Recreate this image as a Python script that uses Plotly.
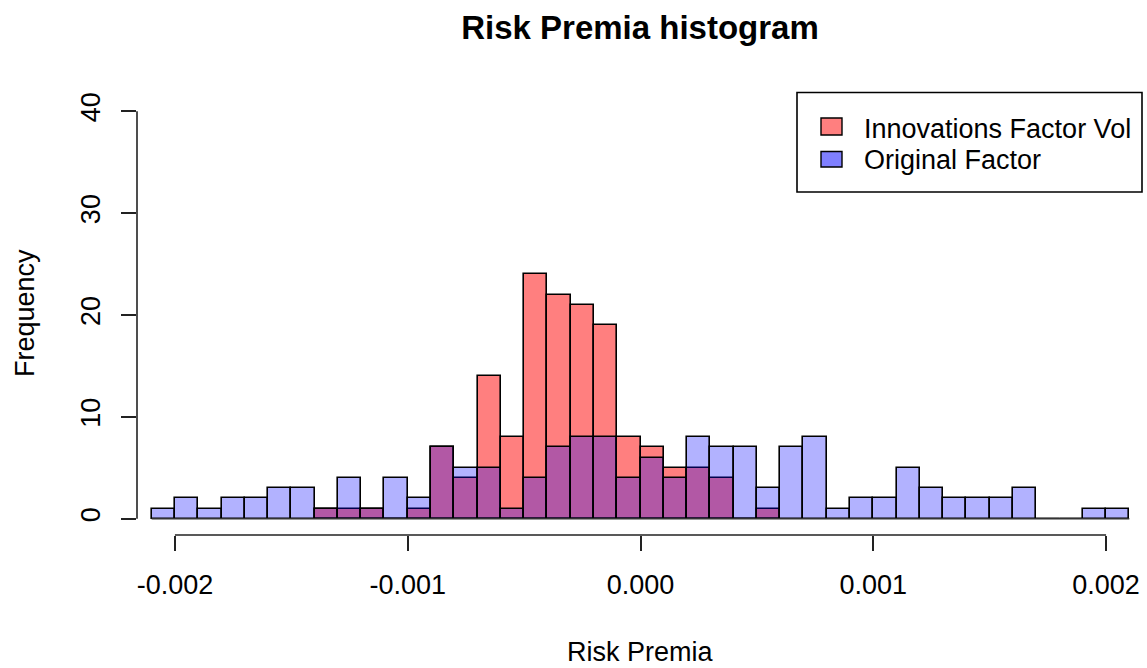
import plotly.graph_objects as go

# ---- data ----
blue_breaks = [-0.0021, -0.0020, -0.0019, -0.0018, -0.0017, -0.0016, -0.0015, -0.0014,
               -0.0013, -0.0012, -0.0011, -0.0010, -0.0009, -0.0008, -0.0007, -0.0006,
               -0.0005, -0.0004, -0.0003, -0.0002, -0.0001, 0.0000, 0.0001, 0.0002,
               0.0003, 0.0004, 0.0005, 0.0006, 0.0007, 0.0008, 0.0009, 0.0010, 0.0011,
               0.0012, 0.0013, 0.0014, 0.0015, 0.0016, 0.0017, 0.0018, 0.0019, 0.0020, 0.0021]
blue_counts = [1, 2, 1, 2, 2, 3, 3, 1, 4, 1, 4, 2, 7, 5, 5, 1, 4, 7, 8, 8, 4,
               6, 4, 8, 7, 7, 3, 7, 8, 1, 2, 2, 5, 3, 2, 2, 2, 3, 0, 0, 1, 1]

red_breaks = [-0.0014, -0.0013, -0.0012, -0.0011, -0.0010, -0.0009, -0.0008, -0.0007,
              -0.0006, -0.0005, -0.0004, -0.0003, -0.0002, -0.0001, 0.0000, 0.0001,
              0.0002, 0.0003, 0.0004, 0.0005, 0.0006]
red_counts = [1, 1, 1, 0, 1, 7, 4, 14, 8, 24, 22, 21, 19, 8, 7, 5, 5, 4, 0, 1]

x_ticks = [-0.002, -0.001, 0.000, 0.001, 0.002]
x_tick_labels = ["-0.002", "-0.001", "0.000", "0.001", "0.002"]
y_ticks = [0, 10, 20, 30, 40]
series_names = ["Innovations Factor Vol", "Original Factor"]

RED_FILL = "rgba(255,0,0,0.5)"
BLUE_FILL = "rgba(0,0,255,0.3)"
RED_KEY = "rgba(255,0,0,0.5)"
BLUE_KEY = "rgba(0,0,255,0.5)"
FONT = "Liberation Sans, Arial, sans-serif"
FS = 27

W, H = 1147, 668
L, R, T, B = 137, 3, 95, 133
PW, PH = W - L - R, H - T - B


def px_x(p):
    return (p - L) / PW


def px_y(p):
    return (H - B - p) / PH


def centers(breaks):
    return [(a + b) / 2 for a, b in zip(breaks[:-1], breaks[1:])]


def widths(breaks):
    return [b - a for a, b in zip(breaks[:-1], breaks[1:])]


fig = go.Figure()
fig.add_trace(go.Bar(x=centers(red_breaks), y=red_counts, width=widths(red_breaks),
                     marker=dict(color=RED_FILL, line=dict(color="black", width=1.6)),
                     name=series_names[0], showlegend=False))
fig.add_trace(go.Bar(x=centers(blue_breaks), y=blue_counts, width=widths(blue_breaks),
                     marker=dict(color=BLUE_FILL, line=dict(color="black", width=1.6)),
                     name=series_names[1], showlegend=False))

shapes = []
# baseline for empty bins
shapes.append(dict(type="line", xref="x", yref="y", x0=blue_breaks[0], x1=blue_breaks[-1],
                   y0=0, y1=0, line=dict(color="#333", width=1.6)))
# R-style axis lines
shapes.append(dict(type="line", xref="paper", yref="y", x0=0, x1=0, y0=y_ticks[0], y1=y_ticks[-1],
                   line=dict(color="#222", width=1.6)))
shapes.append(dict(type="line", xref="x", yref="paper", x0=x_ticks[0], x1=x_ticks[-1], y0=0, y1=0,
                   line=dict(color="#222", width=1.6)))
# legend box
shapes.append(dict(type="rect", xref="paper", yref="paper",
                   x0=px_x(797), x1=px_x(1142), y0=px_y(192), y1=px_y(92.5),
                   line=dict(color="black", width=1.6), fillcolor="white"))
shapes.append(dict(type="rect", xref="paper", yref="paper",
                   x0=px_x(821), x1=px_x(842), y0=px_y(135), y1=px_y(118),
                   line=dict(color="black", width=1.4), fillcolor=RED_KEY))
shapes.append(dict(type="rect", xref="paper", yref="paper",
                   x0=px_x(821), x1=px_x(842), y0=px_y(167), y1=px_y(151.5),
                   line=dict(color="black", width=1.4), fillcolor=BLUE_KEY))

annotations = [
    dict(text=series_names[0], xref="paper", yref="paper", x=px_x(862), y=px_y(129),
         xanchor="left", yanchor="middle", showarrow=False, font=dict(family=FONT, size=FS, color="black")),
    dict(text=series_names[1], xref="paper", yref="paper", x=px_x(862), y=px_y(160),
         xanchor="left", yanchor="middle", showarrow=False, font=dict(family=FONT, size=FS, color="black")),
    dict(text="Risk Premia", xref="paper", yref="paper", x=px_x(640), y=px_y(652),
         xanchor="center", yanchor="middle", showarrow=False, font=dict(family=FONT, size=FS, color="black")),
    dict(text="Frequency", xref="paper", yref="paper", x=px_x(25), y=px_y(313), textangle=-90,
         xanchor="center", yanchor="middle", showarrow=False, font=dict(family=FONT, size=FS, color="black")),
]

fig.update_layout(
    width=W, height=H,
    margin=dict(l=L, r=R, t=T, b=B, pad=0),
    paper_bgcolor="white", plot_bgcolor="white",
    barmode="overlay", bargap=0,
    showlegend=False,
    title=dict(text="<b>Risk Premia histogram</b>", x=px_x(640), xref="paper", xanchor="center",
               y=1 - 27 / H, yref="container", yanchor="middle",
               font=dict(family=FONT, size=33, color="black")),
    shapes=shapes, annotations=annotations,
    xaxis=dict(range=[-0.002163, 0.002163], showgrid=False, zeroline=False, showline=False,
               tickmode="array", tickvals=x_ticks, ticktext=x_tick_labels,
               ticks="outside", ticklen=15, tickwidth=1.6, tickcolor="#222",
               ticklabelstandoff=11,
               tickfont=dict(family=FONT, size=FS, color="black")),
    yaxis=dict(range=[-1.6, 41.6], showgrid=False, zeroline=False, showline=False,
               tickmode="array", tickvals=y_ticks,
               ticks="outside", ticklen=15, tickwidth=1.6, tickcolor="#222",
               tickangle=-90, ticklabelstandoff=10,
               tickfont=dict(family=FONT, size=FS, color="black")),
    font=dict(family=FONT),
)

fig.write_html("out.html")
